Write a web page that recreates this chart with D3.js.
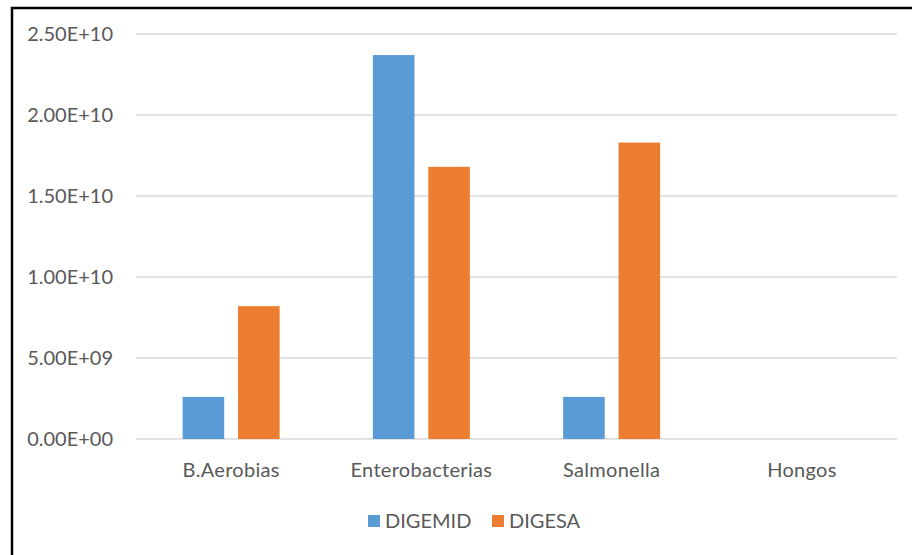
<!DOCTYPE html>
<html>
<head>
<meta charset="utf-8">
<script src="https://cdn.jsdelivr.net/npm/d3@7"></script>
<style>
  body { margin: 0; background: #fff; }
  text { font-family: Lato, "Open Sans", sans-serif; fill: #595959; }
</style>
</head>
<body>
<div id="chart"></div>
<script>
// chart data
const categories = ['B.Aerobias', 'Enterobacterias', 'Salmonella', 'Hongos']
const seriesNames = ['DIGEMID', 'DIGESA']
const digemid = [2.6e9, 2.37e10, 2.6e9, 0]
const digesa = [8.2e9, 1.68e10, 1.83e10, 0]
const yTicks = [0, 5e9, 1e10, 1.5e10, 2e10, 2.5e10]
const colors = ['#5B9BD5', '#ED7D31']

const width = 912
const height = 555
const margin = { top: 34, right: 15, bottom: 116, left: 136 }

const svg = d3.select('#chart').append('svg')
  .attr('width', width)
  .attr('height', height)

// frame (left and top edges visible)
svg.append('path')
  .attr('d', `M12,${height} L12,8 L${width},8`)
  .attr('fill', 'none')
  .attr('stroke', '#000')
  .attr('stroke-width', 2.5)

const x0 = d3.scaleBand()
  .domain(categories)
  .range([margin.left, width - margin.right])

const x1 = d3.scaleBand()
  .domain(seriesNames)
  .range([0, 97])
  .paddingInner(0.25)

const y = d3.scaleLinear()
  .domain([0, 2.5e10])
  .range([height - margin.bottom, margin.top])

// gridlines
svg.append('g')
  .selectAll('line')
  .data(yTicks)
  .enter().append('line')
  .attr('x1', margin.left)
  .attr('x2', width - margin.right)
  .attr('y1', d => y(d))
  .attr('y2', d => y(d))
  .attr('stroke', '#d9d9d9')
  .attr('stroke-width', 1.5)

// y tick labels
svg.append('g')
  .selectAll('text')
  .data(yTicks)
  .enter().append('text')
  .attr('x', 113)
  .attr('y', d => y(d))
  .attr('dy', '0.35em')
  .attr('text-anchor', 'end')
  .style('font-size', '20px')
  .text(d => d.toExponential(2).toUpperCase().replace(/E([+-])(\d)$/, 'E$10$2'))

// bars
const rows = categories.map((c, i) => ({ cat: c, values: [digemid[i], digesa[i]] }))
const groups = svg.append('g')
  .selectAll('g')
  .data(rows)
  .enter().append('g')
  .attr('transform', d => `translate(${x0(d.cat) + (x0.bandwidth() - 97) / 2},0)`)

groups.selectAll('rect')
  .data(d => d.values.map((v, j) => ({ key: seriesNames[j], value: v, j })))
  .enter().append('rect')
  .attr('x', d => x1(d.key))
  .attr('width', x1.bandwidth())
  .attr('y', d => y(d.value))
  .attr('height', d => y(0) - y(d.value))
  .attr('fill', d => colors[d.j])

// category labels
svg.append('g')
  .selectAll('text')
  .data(categories)
  .enter().append('text')
  .attr('x', d => x0(d) + x0.bandwidth() / 2)
  .attr('y', y(0) + 31)
  .attr('dy', '0.35em')
  .attr('text-anchor', 'middle')
  .style('font-size', '20px')
  .style('letter-spacing', '0.3px')
  .text(d => d)

// legend
const legendX = [368, 492]
const legend = svg.append('g')
  .selectAll('g')
  .data(seriesNames)
  .enter().append('g')
  .attr('transform', (d, i) => `translate(${legendX[i]},521)`)

legend.append('rect')
  .attr('x', 0)
  .attr('y', -6)
  .attr('width', 12)
  .attr('height', 12)
  .attr('fill', (d, i) => colors[i])

legend.append('text')
  .attr('x', 17)
  .attr('y', 0)
  .attr('dy', '0.35em')
  .style('font-size', '20px')
  .text(d => d)
</script>
</body>
</html>
